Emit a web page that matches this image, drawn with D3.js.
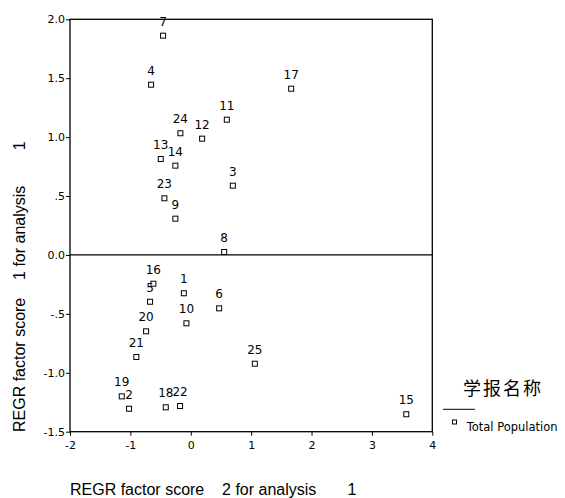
<!DOCTYPE html>
<html>
<head>
<meta charset="utf-8">
<script src="https://cdn.jsdelivr.net/npm/d3@7"></script>
<style>
  body { margin: 0; background: #fff; }
  svg { display: block; }
</style>
</head>
<body>
<div id="vis-holder"></div>
<script>
// Case ids and their two factor scores
const caseIds = ["1","2","3","4","5","6","7","8","9","10","11","12","13",
                 "14","15","16","17","18","19","20","21","22","23","24","25"];
const factor2 = [-0.115, -1.022, 0.697, -0.657, -0.674, 0.470, -0.458, 0.553, -0.255, -0.072,
                 0.597, 0.188, -0.497, -0.255, 3.569, -0.619, 1.663, -0.414, -1.143, -0.740,
                 -0.901, -0.177, -0.437, -0.172, 1.061];
const factor1 = [-0.325, -1.305, 0.588, 1.445, -0.397, -0.453, 1.861, 0.025, 0.308, -0.580,
                 1.148, 0.987, 0.814, 0.758, -1.352, -0.244, 1.411, -1.293, -1.200, -0.648,
                 -0.866, -1.282, 0.481, 1.033, -0.923];

// Tick values and labels
const xTicks = [-2, -1, 0, 1, 2, 3, 4];
const xTickLabels = ["-2", "-1", "0", "1", "2", "3", "4"];
const yTicks = [2.0, 1.5, 1.0, 0.5, 0.0, -0.5, -1.0, -1.5];
const yTickLabels = ["2.0", "1.5", "1.0", ".5", "0.0", "-.5", "-1.0", "-1.5"];

const legendTitle = "学报名称";
const legendItem = "Total Population";
const xTitle = "REGR factor score    2 for analysis       1";
const yTitle = "REGR factor score    1 for analysis        1";

// Set margins and dimensions
const width = 565;
const height = 498;
const margin = { top: 19.3, right: 132.7, bottom: 66.3, left: 70 };

const svg = d3.select("#vis-holder")
              .append("svg")
              .attr("width", width)
              .attr("height", height);

const data = caseIds.map((id, i) => ({ id: id, x: factor2[i], y: factor1[i] }));

// Scales
const x = d3.scaleLinear()
            .domain([-2, 4])
            .range([margin.left, width - margin.right]);

const y = d3.scaleLinear()
            .domain([-1.5, 2.0])
            .range([height - margin.bottom, margin.top]);

// Frame around the plot
svg.append("rect")
   .attr("x", x(-2))
   .attr("y", y(2))
   .attr("width", x(4) - x(-2))
   .attr("height", y(-1.5) - y(2))
   .attr("fill", "none")
   .attr("stroke", "#000")
   .attr("stroke-width", 1.3);

// Reference line at y = 0
svg.append("line")
   .attr("x1", x(-2))
   .attr("x2", x(4))
   .attr("y1", y(0))
   .attr("y2", y(0))
   .attr("stroke", "#000")
   .attr("stroke-width", 1.3);

// Add x axis
svg.append("g")
   .attr("transform", `translate(0,${y(-1.5)})`)
   .call(d3.axisBottom(x)
           .tickValues(xTicks)
           .tickFormat((d, i) => xTickLabels[i])
           .tickSize(4)
           .tickSizeOuter(0)
           .tickPadding(6))
   .attr("font-family", "DejaVu Sans")
   .attr("font-size", "11px")
   .call(g => g.select(".domain").remove());

// Add y axis
svg.append("g")
   .attr("transform", `translate(${x(-2)},0)`)
   .call(d3.axisLeft(y)
           .tickValues(yTicks)
           .tickFormat((d, i) => yTickLabels[i])
           .tickSize(4)
           .tickSizeOuter(0)
           .tickPadding(1))
   .attr("font-family", "DejaVu Sans")
   .attr("font-size", "11px")
   .call(g => g.select(".domain").remove());

// Points
svg.selectAll(".pt")
   .data(data)
   .enter()
   .append("rect")
     .attr("class", "pt")
     .attr("x", d => x(d.x) - 2.5)
     .attr("y", d => y(d.y) - 2.5)
     .attr("width", 5)
     .attr("height", 5)
     .attr("fill", "#fff")
     .attr("stroke", "#000")
     .attr("stroke-width", 1);

// Point labels
svg.selectAll(".lbl")
   .data(data)
   .enter()
   .append("text")
     .attr("class", "lbl")
     .attr("x", d => x(d.x))
     .attr("y", d => y(d.y) - 10)
     .attr("text-anchor", "middle")
     .attr("font-family", "DejaVu Sans")
     .attr("font-size", "12px")
     .text(d => d.id);

// Axis titles
svg.append("text")
   .attr("x", 70)
   .attr("y", 494.7)
   .attr("font-family", "Liberation Sans")
   .attr("font-size", "16px")
   .style("white-space", "pre")
   .text(xTitle);

svg.append("text")
   .attr("transform", "translate(25,432) rotate(-90)")
   .attr("font-family", "Liberation Sans")
   .attr("font-size", "16px")
   .style("white-space", "pre")
   .text(yTitle);

// Legend
svg.append("text")
   .attr("x", 463)
   .attr("y", 395)
   .attr("font-family", "Noto Sans CJK SC")
   .attr("font-size", "18px")
   .attr("letter-spacing", "2px")
   .text(legendTitle);

svg.append("line")
   .attr("x1", 443)
   .attr("x2", 475)
   .attr("y1", 409.3)
   .attr("y2", 409.3)
   .attr("stroke", "#000")
   .attr("stroke-width", 1);

svg.append("rect")
   .attr("x", 452.5)
   .attr("y", 420)
   .attr("width", 4)
   .attr("height", 4)
   .attr("fill", "#fff")
   .attr("stroke", "#000")
   .attr("stroke-width", 1);

svg.append("text")
   .attr("x", 466.7)
   .attr("y", 430.5)
   .attr("font-family", "DejaVu Sans")
   .attr("font-size", "11.5px")
   .text(legendItem);
</script>
</body>
</html>
